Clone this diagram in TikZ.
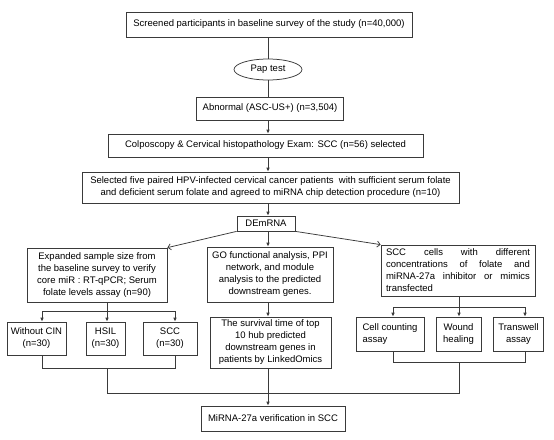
\documentclass[tikz,border=0pt]{standalone}
\usepackage{fontspec}
\setmainfont{Liberation Sans}
\usetikzlibrary{shapes.geometric,arrows.meta}
\begin{document}
\begin{tikzpicture}[x=1pt,y=-1pt,
  box/.style={draw=linecol, line width=0.75pt, inner sep=0pt, align=center,
    font=\fontsize{9.5}{12}\selectfont, text=black},
  oval/.style={box, ellipse},
  conn/.style={draw=linecol, line width=0.75pt},
  arr/.style={conn, -{Latex[length=4pt,width=3.6pt]}},
  openarr/.style={conn, -{Straight Barb[length=3pt,width=6pt]}}]
\definecolor{linecol}{HTML}{3A3A3A}
\useasboundingbox[fill=white] (0,0) rectangle (554,439);

% main column
\node[box, minimum width=286pt, minimum height=25pt] (top) at (269,24.5)
  {Screened participants in baseline survey of the study (n=40,000)};
\node[oval, minimum width=68pt, minimum height=21pt] (pap) at (268,69.5) {Pap test};
\node[box, minimum width=147pt, minimum height=23pt] (abn) at (270,108.5)
  {Abnormal (ASC-US+) (n=3,504)};
\node[box, minimum width=315pt, minimum height=23pt] (colp) at (265.5,145.5)
  {Colposcopy \& Cervical histopathology Exam: SCC (n=56) selected};
\node[box, minimum width=377pt, minimum height=31pt] (sel) at (270.5,187.5)
  {Selected five paired HPV-infected cervical cancer patients\ \ with sufficient serum folate\\
   and deficient serum folate and agreed to miRNA chip detection procedure (n=10)};
\node[box, minimum width=58pt, minimum height=15pt] (dem) at (266,223.5) {DEmRNA};

% second level
\node[box, minimum width=140pt, minimum height=54pt] (exp) at (97,275)
  {Expanded sample size from\\the baseline survey to verify\\core miR : RT-qPCR; Serum\\folate levels assay (n=90)};
\node[box, minimum width=126pt, minimum height=55pt] (go) at (270,274.5)
  {GO functional analysis, PPI\\network, and module\\analysis to the predicted\\downstream genes.};
\node[box, minimum width=154pt, minimum height=51pt, text width=144pt, align=left] (scc) at (458,270.5)
  {\makebox[144pt]{SCC\hfill cells\hfill with\hfill different}\\
   \makebox[144pt]{concentrations\hfill of\hfill folate\hfill and}\\
   \makebox[144pt]{miRNA-27a\hfill inhibitor\hfill or\hfill mimics}\\
   transfected};

% third level left
\node[box, minimum width=59pt, minimum height=33pt] (wo) at (36.5,338.5) {Without CIN\\(n=30)};
\node[box, minimum width=39pt, minimum height=33pt] (hsil) at (105.5,338.5) {HSIL\\(n=30)};
\node[box, minimum width=54pt, minimum height=33pt] (scct) at (170,338.5) {SCC\\(n=30)};

% third level middle
\node[box, minimum width=121pt, minimum height=51pt] (surv) at (270.5,342.5)
  {The survival time of top\\10 hub predicted\\downstream genes in\\patients by LinkedOmics};

% third level right
\node[box, minimum width=68pt, minimum height=34pt, align=left] (cc) at (390,334)
  {Cell counting\\assay};
\node[box, minimum width=45pt, minimum height=34pt] (wh) at (458.5,334) {Wound\\healing};
\node[box, minimum width=50pt, minimum height=34pt] (tw) at (518.5,334) {Transwell\\assay};

% final
\node[box, minimum width=144pt, minimum height=25pt] (fin) at (273,418.5)
  {MiRNA-27a verification in SCC};

% junction coordinates
\coordinate (axis) at (268,0);
\coordinate (ls) at (107,311);
\coordinate (lA) at (42,311);
\coordinate (lB) at (175,311);
\coordinate (lC) at (42,368);
\coordinate (lD) at (175,368);
\coordinate (lE) at (107,368);
\coordinate (mA) at (107,393);
\coordinate (mB) at (459,393);
\coordinate (rs) at (459,307);
\coordinate (rA) at (393,307);
\coordinate (rB) at (525,307);
\coordinate (rC) at (393,362);
\coordinate (rD) at (525,362);
\coordinate (rE) at (459,362);

% main column connectors
\draw[conn] (top.south -| pap) -- (pap.north);
\draw[conn] (pap.south) -- (pap.south |- abn.north);
\draw[arr] (abn.south -| axis) -- (colp.north -| axis);
\draw[arr] (colp.south -| axis) -- (sel.north -| axis);
\draw[arr] (sel.south -| axis) -- (dem.north -| axis);
\draw[arr] (dem.south -| axis) -- (go.north -| axis);
\draw[openarr] (dem.south west) -- (exp.north east);
\draw[openarr] (dem.south east) -- (scc.north west);

% left branch
\draw[conn] (exp.south -| ls) -- (ls);
\draw[conn] (lA) -- (lB);
\draw[arr] (lA) -- (lA |- wo.north);
\draw[arr] (ls) -- (ls |- hsil.north);
\draw[arr] (lB) -- (lB |- scct.north);
\draw[conn] (lC |- wo.south) -- (lC) -- (lD) -- (lD |- scct.south);
\draw[conn] (lE) -- (mA) -- (mB) -- (rE);

% middle branch
\draw[arr] (go.south -| axis) -- (surv.north -| axis);
\draw[arr] (surv.south -| axis) -- (fin.north -| axis);

% right branch
\draw[conn] (scc.south -| rs) -- (rs);
\draw[conn] (rA) -- (rB);
\draw[arr] (rA) -- (rA |- cc.north);
\draw[arr] (rs) -- (rs |- wh.north);
\draw[arr] (rB) -- (rB |- tw.north);
\draw[conn] (rC |- cc.south) -- (rC) -- (rD) -- (rD |- tw.south);
\end{tikzpicture}
\end{document}
